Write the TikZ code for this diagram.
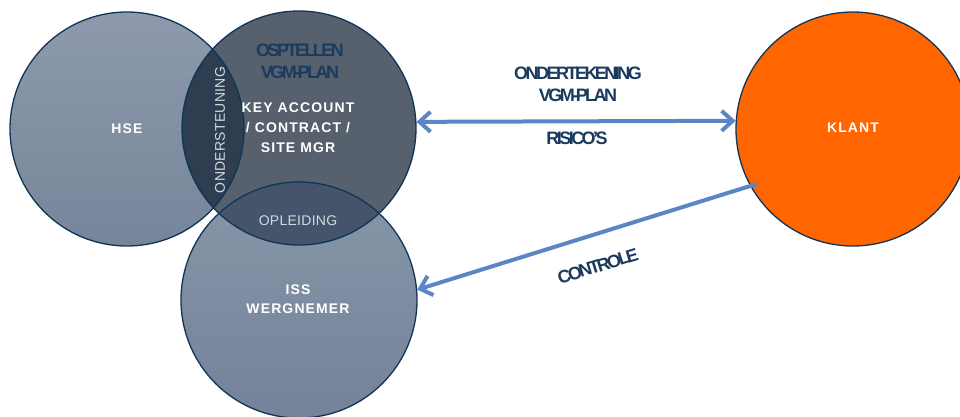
\documentclass[tikz,border=0pt]{standalone}
\usepackage{fontspec}
\setmainfont{Liberation Sans}
\newfontfamily\wfont{Liberation Sans}[LetterSpace=8]
\newfontfamily\nfont{Liberation Sans}[LetterSpace=-14]
\newfontfamily\gfont{Liberation Sans}[LetterSpace=2]
\usetikzlibrary{arrows.meta}
\pgfdeclarelayer{bg}
\pgfsetlayers{bg,main}
\definecolor{edge}{HTML}{0F3557}
\definecolor{hseTop}{HTML}{8E9AAC}
\definecolor{hseBot}{HTML}{76859A}
\definecolor{kafill}{HTML}{56616D}
\definecolor{lensA}{HTML}{2E3D50}
\definecolor{lensB}{HTML}{45546A}
\definecolor{issTop}{HTML}{8896A8}
\definecolor{issBot}{HTML}{74839A}
\definecolor{labnavy}{HTML}{1B3B5E}
\definecolor{lighttext}{HTML}{D5D9DE}
\definecolor{arrowblue}{HTML}{5A86C4}
\definecolor{klantorange}{HTML}{FF6600}
\tikzset{
  circ/.style={circle, draw=edge, line width=1.3pt, minimum size=234pt, inner sep=0pt},
  wtxt/.style={text=white, align=center, font=\wfont\bfseries\fontsize{14}{20}\selectfont},
  ntxt/.style={text=labnavy, align=center, font=\nfont\bfseries\fontsize{18}{22}\selectfont},
  gtxt/.style={text=lighttext, font=\gfont\fontsize{14}{16}\selectfont},
  conn/.style={draw=arrowblue, line width=4pt},
  barb/.tip={Straight Barb[length=11pt,width=20pt]}
}
\begin{document}
\begin{tikzpicture}[x=1pt,y=-1pt]
\useasboundingbox (0,0) rectangle (960,416);
% circles (outlines)
\node[circ] (hse) at (127,129) {};
\node[circ] (ka) at (299,128) {};
\node[circ, minimum size=236pt] (iss) at (299,300) {};
\node[circ, fill=klantorange] (klant) at (853,129) {};
% fills
\begin{pgfonlayer}{bg}
  \shade[top color=hseTop, bottom color=hseBot] (hse.center) circle[radius=117];
  \fill[kafill] (ka.center) circle[radius=117];
  \shade[top color=issTop, bottom color=issBot] (iss.center) circle[radius=118];
  \begin{scope}
    \clip (hse.center) circle[radius=117];
    \fill[lensA] (ka.center) circle[radius=117];
  \end{scope}
  \begin{scope}
    \clip (ka.center) circle[radius=117];
    \fill[lensB] (iss.center) circle[radius=118];
  \end{scope}
\end{pgfonlayer}
% texts
\node[wtxt] (thse) at (127,129) {HSE};
\node[wtxt] (tka) at (298,128) {KEY ACCOUNT\\/ CONTRACT /\\SITE MGR};
\node[wtxt, font=\wfont\bfseries\fontsize{14}{19}\selectfont] (tiss) at (298,299) {ISS\\WERGNEMER};
\node[wtxt] (tklant) at (853,128) {KLANT};
\node[ntxt] (tosp) at (300,61) {OSPTELLEN\\VGM-PLAN};
\node[gtxt, rotate=90] (tond) at (220,130) {ONDERSTEUNING};
\node[gtxt] (topl) at (298,221) {OPLEIDING};
\node[ntxt] (tonder) at (578,84) {ONDERTEKENING\\VGM-PLAN};
\node[ntxt] (trisk) at (577,138) {RISICO’S};
\node[ntxt, rotate=17] (tcontr) at (598,266) {CONTROLE};
% connectors
\draw[conn, barb-barb] (ka.3.9) -- (klant.176.1);
\draw[conn, -barb, shorten <=-7pt] (klant.209.4) -- (iss.5.8);
\end{tikzpicture}
\end{document}
